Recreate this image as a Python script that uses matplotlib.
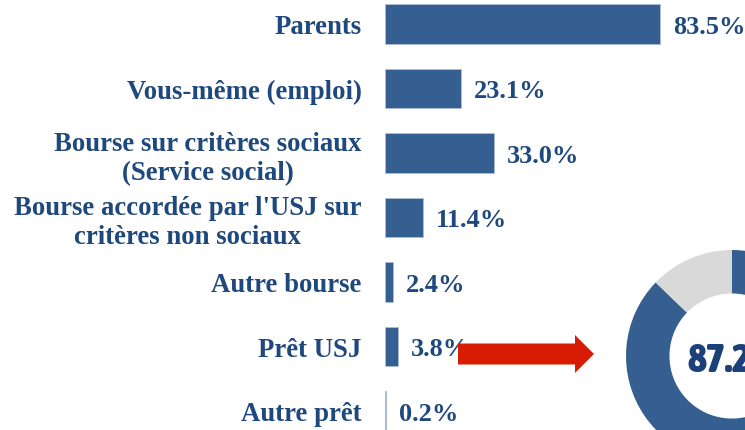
import matplotlib
matplotlib.use("Agg")
import matplotlib.pyplot as plt
from matplotlib import font_manager
from matplotlib.patches import FancyArrow

# données
categories = [
    "Parents",
    "Vous-même (emploi)",
    "Bourse sur critères sociaux\n(Service social)",
    "Bourse accordée par l'USJ sur\ncritères non sociaux",
    "Autre bourse",
    "Prêt USJ",
    "Autre prêt",
]
values = [83.5, 23.1, 33.0, 11.4, 2.4, 3.8, 0.2]
donut_values = [87.2, 12.8]
donut_label = "87.2%"

BAR = "#365f91"
TXT = "#1f497d"
GREY = "#d9d9d9"
RED = "#d81c04"
W, H = 745, 431


def weight_of(f):
    w = f.weight
    if isinstance(w, str):
        w = font_manager.weight_dict.get(w, 400)
    return w


# police étroite et grasse pour le chiffre de l'anneau, si disponible
cands = [f for f in font_manager.fontManager.ttflist
         if ("Narrow" in f.name or "Condensed" in f.name or f.stretch == "condensed")
         and f.style == "normal"]
cands.sort(key=lambda f: (-weight_of(f), "Liberation" not in f.name, f.name))
if cands:
    donut_font = font_manager.FontProperties(fname=cands[0].fname, size=29)
else:
    donut_font = font_manager.FontProperties(family="DejaVu Sans", weight="bold", size=29)

fig = plt.figure(figsize=(W / 100, H / 100), dpi=100)

# barres horizontales
ax = fig.add_axes([385 / W, 0, 360 / W, 1])
pos = list(range(len(values)))
ax.barh(pos, values, height=0.62, color=BAR, edgecolor="#aebfd6", linewidth=0.6)
ax.set_xlim(0, 360 / 3.29)
ax.set_ylim((H - 25) / 64.5, -25 / 64.5)
ax.set_yticks(pos)
ax.set_yticklabels(categories, fontsize=19.3, fontweight="bold",
                   family="Liberation Serif", color=TXT, linespacing=1.2)
for lab in ax.get_yticklabels():
    lab.set_multialignment("center")
ax.tick_params(axis="y", length=0, pad=17)
ax.set_xticks([])
for s in ax.spines.values():
    s.set_visible(False)

for p, v in zip(pos, values):
    ax.annotate(f"{v:.1f}%", (v, p), xytext=(9.5, -1.5), textcoords="offset points",
                ha="left", va="center", fontsize=19, fontweight="bold",
                family="Liberation Serif", color=TXT)

# flèche rouge (coordonnées en pixels)
ov = fig.add_axes([0, 0, 1, 1], zorder=5)
ov.set_xlim(0, W)
ov.set_ylim(H, 0)
ov.axis("off")
ov.add_patch(FancyArrow(458, 355, 136, 0, width=21, head_width=38, head_length=19,
                        length_includes_head=True, color=RED, linewidth=0))

# anneau
r = 106
cx, cy = 732, 357
ax2 = fig.add_axes([(cx - r) / W, (H - cy - r) / H, 2 * r / W, 2 * r / H], zorder=6)
ax2.pie(donut_values, colors=[BAR, GREY], startangle=90, counterclock=False,
        radius=1, wedgeprops=dict(width=0.41, linewidth=0))
ax2.set_xlim(-1, 1)
ax2.set_ylim(-1, 1)
ax2.text(0, -0.14, donut_label, ha="center", va="baseline",
         fontproperties=donut_font, color="#1c4178")

fig.savefig("out.png", dpi=100)
